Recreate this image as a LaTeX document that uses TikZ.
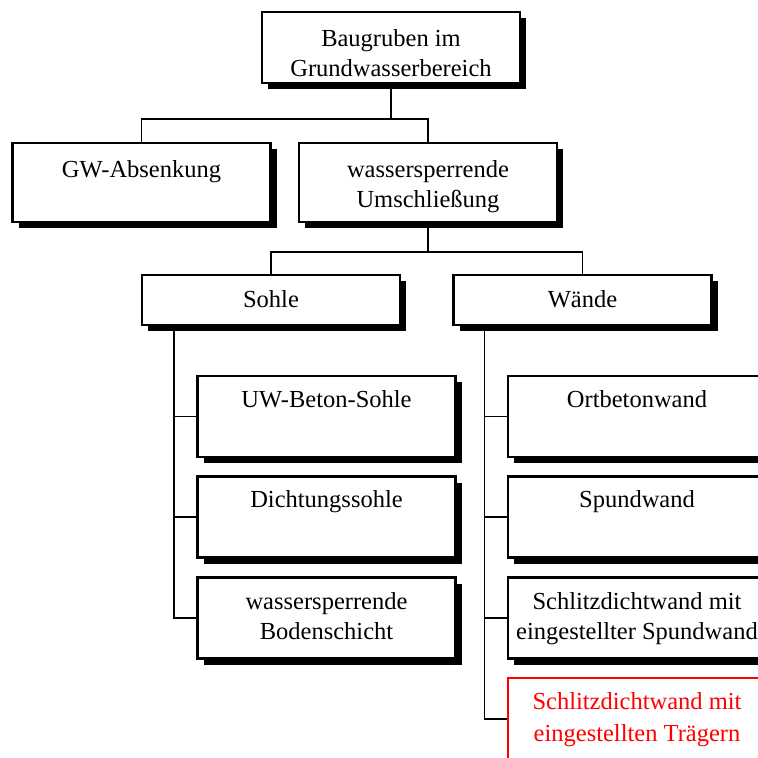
\documentclass[tikz,border=0pt]{standalone}
\usepackage{fontspec}
\setmainfont{Liberation Serif}
\usetikzlibrary{shadows}
\begin{document}
\begin{tikzpicture}[x=1pt,y=-1pt,
  box/.style={draw, line width=2.1pt, fill=white, inner sep=0pt, align=center,
    minimum width=258pt,
    font=\fontsize{24.5}{30}\selectfont,
    drop shadow={shadow xshift=6pt, shadow yshift=-6pt, fill=black, opacity=1}},
  bigbox/.style={box, text height=34pt, text depth=45pt},
  bigboxtwo/.style={box, text height=64pt, text depth=15pt},
  topboxtwo/.style={box, text height=64pt, text depth=7pt},
  midbox/.style={box, text height=32pt, text depth=18pt},
  subbox/.style={box, text height=31pt, text depth=50pt},
  subboxtwo/.style={box, text height=62pt, text depth=19pt},
  redbox/.style={draw=red, text=red, line width=2.1pt, fill=white, inner sep=0pt, align=center,
    minimum width=258pt, font=\fontsize{24.5}{32}\selectfont, text height=63pt, text depth=19pt},
  conn/.style={line width=1.9pt}]
\useasboundingbox (0,0) rectangle (758,758);
\clip (0,0) rectangle (758,758);

\coordinate (j1) at (391,119);
\coordinate (j2) at (428,252);

\node[topboxtwo] (top) at (391,47.5) {Baugruben im\\Grundwasserbereich};
\node[bigbox] (gw) at (141.5,182.5) {GW-Absenkung};
\node[bigboxtwo] (wass) at (428,182.5) {wassersperrende\\Umschließung};
\node[midbox] (sohle) at (271,300) {Sohle};
\node[midbox] (waende) at (582.5,300) {Wände};

\node[subbox] (uw) at (326.5,416.5) {UW-Beton-Sohle};
\node[subbox] (dicht) at (326.5,517) {Dichtungssohle};
\node[subboxtwo] (boden) at (326.5,618) {wassersperrende\\Bodenschicht};

\node[subbox] (ort) at (637,416.5) {Ortbetonwand};
\node[subbox] (spund) at (637,517) {Spundwand};
\node[subboxtwo] (schlitz) at (637,618) {Schlitzdichtwand mit\\eingestellter Spundwand};
\node[redbox] (traeger) at (637,719) {Schlitzdichtwand mit\\eingestellten Trägern};

\coordinate (sl) at ([xshift=33pt]sohle.south west);
\coordinate (wl) at ([xshift=32pt]waende.south west);

\draw[conn] (top.south) -- (j1);
\draw[conn] (gw.north) |- (j1);
\draw[conn] (wass.north) |- (j1);
\draw[conn] (wass.south) -- (j2);
\draw[conn] (sohle.north) |- (j2);
\draw[conn] (waende.north) |- (j2);

\draw[conn] (sl) |- (boden.west);
\draw[conn] (uw.west) -- (uw.west -| sl);
\draw[conn] (dicht.west) -- (dicht.west -| sl);

\draw[conn] (wl) |- (traeger.west);
\draw[conn] (ort.west) -- (ort.west -| wl);
\draw[conn] (spund.west) -- (spund.west -| wl);
\draw[conn] (schlitz.west) -- (schlitz.west -| wl);
\end{tikzpicture}
\end{document}
